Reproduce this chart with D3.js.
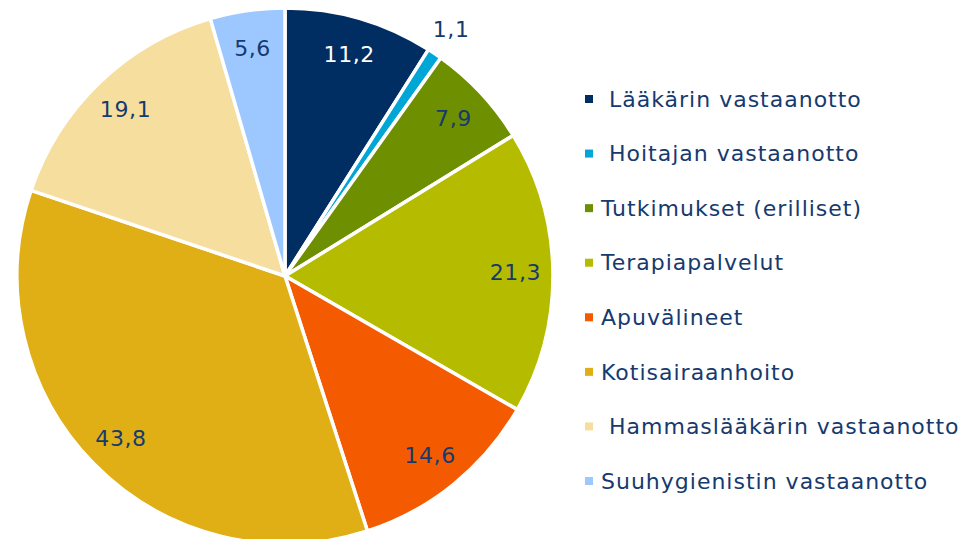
<!DOCTYPE html>
<html>
<head>
<meta charset="utf-8">
<script src="https://cdn.jsdelivr.net/npm/d3@7"></script>
<style>
  body { margin: 0; background: #fff; }
  svg text { font-family: 'DejaVu Sans', Verdana, sans-serif; }
</style>
</head>
<body>
<div id="piechart"></div>
<script>
var categories = [' Lääkärin vastaanotto', ' Hoitajan vastaanotto', 'Tutkimukset (erilliset)', 'Terapiapalvelut',
	'Apuvälineet', 'Kotisairaanhoito', ' Hammaslääkärin vastaanotto', 'Suuhygienistin vastaanotto'];
var values = [11.2, 1.1, 7.9, 21.3, 14.6, 43.8, 19.1, 5.6];
var labels = ['11,2', '1,1', '7,9', '21,3', '14,6', '43,8', '19,1', '5,6'];

var colors = ['#002D62', '#00A6D6', '#6E8F00', '#B5BC00', '#F45B00', '#E0AF15', '#F6DF9E', '#9DC8FF'];
var textColor = '#163A6E';

var width = 976, height = 539;
var cx = 285, cy = 276, radius = 268;

var svg = d3.select('#piechart').append('svg').attr('width', width).attr('height', height);

var data = values.map(function(v, i) { return { name: categories[i], value: v, label: labels[i] }; });

var pie = d3.pie().sort(null).value(function(d) { return d.value; });
var arc = d3.arc().innerRadius(0).outerRadius(radius);
var labelArc = d3.arc().innerRadius(radius * 0.86).outerRadius(radius * 0.86);
var outerArc = d3.arc().innerRadius(radius * 1.11).outerRadius(radius * 1.11);

var g = svg.append('g').attr('transform', 'translate(' + cx + ',' + cy + ')');

var arcs = pie(data);

g.selectAll('path')
	.data(arcs)
	.enter().append('path')
	.attr('d', arc)
	.attr('fill', function(d, i) { return colors[i]; })
	.attr('stroke', '#fff')
	.attr('stroke-width', 3.5)
	.attr('stroke-linejoin', 'round');

g.selectAll('text.lbl')
	.data(arcs)
	.enter().append('text')
	.attr('class', 'lbl')
	.attr('transform', function(d) {
		// tiny slices get their label just outside the pie
		var c = (d.endAngle - d.startAngle) < 0.1 ? outerArc.centroid(d) : labelArc.centroid(d);
		return 'translate(' + c[0] + ',' + c[1] + ')';
	})
	.attr('text-anchor', 'middle')
	.attr('dy', '0.35em')
	.attr('font-size', '22px')
	.attr('letter-spacing', '0.6px')
	.attr('fill', function(d, i) { return i === 0 ? '#fff' : textColor; })
	.text(function(d) { return d.data.label; });

// legend
var legendY = d3.scalePoint()
	.domain(d3.range(categories.length))
	.range([99, 481]);

var legend = svg.append('g').attr('class', 'legend');

var item = legend.selectAll('g')
	.data(categories)
	.enter().append('g')
	.attr('transform', function(d, i) { return 'translate(585,' + legendY(i) + ')'; });

item.append('rect')
	.attr('x', 0)
	.attr('y', -4)
	.attr('width', 8)
	.attr('height', 8)
	.attr('fill', function(d, i) { return colors[i]; });

item.append('text')
	.attr('x', 16)
	.attr('dy', '0.35em')
	.attr('font-size', '22px')
	.attr('letter-spacing', '1px')
	.attr('fill', textColor)
	.style('white-space', 'pre')
	.text(function(d) { return d; });
</script>
</body>
</html>
